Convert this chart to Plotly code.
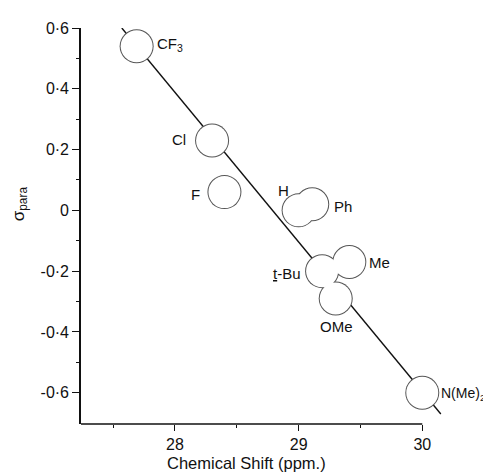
import plotly.graph_objects as go

# ---- data ----
substituents = ["CF<sub>3</sub>", "Cl", "F", "H", "Ph", "<u>t</u>-Bu", "Me", "OMe", "N(Me)<sub>2</sub>"]
shift_ppm = [27.69, 28.30, 28.40, 29.00, 29.11, 29.19, 29.41, 29.30, 30.00]
sigma_para = [0.54, 0.23, 0.06, 0.00, 0.02, -0.20, -0.17, -0.29, -0.60]

fit_x = [27.57, 30.15]
fit_y = [0.60, -0.67]

x_ticks = [28, 29, 30]
x_minor = [27.5, 28.5, 29.5]
y_ticks = [0.6, 0.4, 0.2, 0.0, -0.2, -0.4, -0.6]
y_ticktext = ["0·6", "0·4", "0·2", "0", "-0·2", "-0·4", "-0·6"]
y_minor = [0.5, 0.3, 0.1, -0.1, -0.3, -0.5]

X_RANGE = [27.24, 30.2]
Y_RANGE = [-0.703, 0.60]

FONT = "Liberation Sans, Arial, sans-serif"

fig = go.Figure()
fig.add_trace(go.Scatter(x=fit_x, y=fit_y, mode="lines",
                         line=dict(color="#111", width=1.4), hoverinfo="skip"))
# outline layer then white fill layer (gives union outlines for overlapping circles)
fig.add_trace(go.Scatter(x=shift_ppm, y=sigma_para, mode="markers",
                         marker=dict(size=34, color="#555", line=dict(width=0)),
                         cliponaxis=False, hoverinfo="skip"))
fig.add_trace(go.Scatter(x=shift_ppm, y=sigma_para, mode="markers",
                         marker=dict(size=32, color="white", line=dict(width=0)),
                         cliponaxis=False, hoverinfo="skip"))

# label anchors, pixel offsets and sizes
label_style = [
    ("left", 18, 2, 15),     # CF3
    ("right", -24, 1, 15),   # Cl
    ("right", -22, -2, 15),  # F
    ("right", -8, 20, 15),   # H
    ("left", 20, -2, 15),    # Ph
    ("right", -19, -2, 15),  # t-Bu
    ("left", 18, 0, 15),     # Me
    ("center", 1, -28, 15),  # OMe
    ("left", 17, -1, 14),    # N(Me)2
]
for name, x, y, (anc, dx, dy, fs) in zip(substituents, shift_ppm, sigma_para, label_style):
    fig.add_annotation(x=x, y=y, text=name, showarrow=False, xanchor=anc, yanchor="middle",
                       xshift=dx, yshift=dy, font=dict(family=FONT, size=fs, color="#111"))

# x axis line stops at 30
fig.add_shape(type="line", xref="x", yref="paper", x0=X_RANGE[0], x1=x_ticks[-1], y0=0, y1=0,
              line=dict(color="#111", width=1.6))

# axis titles
fig.add_annotation(xref="paper", yref="paper", x=0.451, y=0, yshift=-39, showarrow=False,
                   text="Chemical Shift (ppm.)", xanchor="center", yanchor="middle",
                   font=dict(family=FONT, size=16.5, color="#111"))
fig.add_annotation(xref="paper", yref="y", x=0, y=0.02, xshift=-61, showarrow=False,
                   text="σ<sub>para</sub>", textangle=-90, xanchor="center", yanchor="middle",
                   font=dict(family=FONT, size=17, color="#111"))

# page body has an 8px margin: shift everything up-left by 8px
fig.update_layout(
    width=483, height=464,
    margin=dict(l=72.5, r=43.5, t=12, b=48),
    paper_bgcolor="white", plot_bgcolor="white",
    showlegend=False,
    font=dict(family=FONT, size=15, color="#111"),
    xaxis=dict(range=X_RANGE, showgrid=False, zeroline=False, showline=False,
               tickmode="array", tickvals=x_ticks, ticktext=[str(v) for v in x_ticks],
               ticks="outside", ticklen=6, tickwidth=1.4, tickcolor="#111",
               minor=dict(tickmode="array", tickvals=x_minor, ticks="outside", ticklen=3,
                          tickwidth=1.4, tickcolor="#111", showgrid=False),
               tickfont=dict(family=FONT, size=16, color="#111")),
    yaxis=dict(range=Y_RANGE, showgrid=False, zeroline=False, showline=True,
               linecolor="#111", linewidth=1.6,
               tickmode="array", tickvals=y_ticks, ticktext=y_ticktext,
               ticks="outside", ticklen=7, tickwidth=1.4, tickcolor="#111",
               minor=dict(tickmode="array", tickvals=y_minor, ticks="outside", ticklen=3,
                          tickwidth=1.4, tickcolor="#111", showgrid=False),
               tickfont=dict(family=FONT, size=16, color="#111")),
)

fig.write_html("out.html")
